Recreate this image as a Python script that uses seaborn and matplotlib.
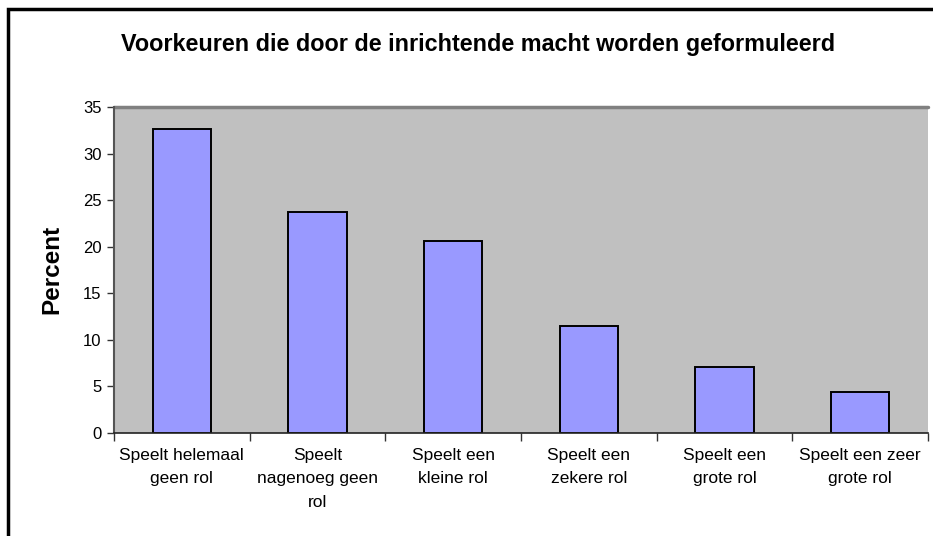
import pandas as pd
import seaborn as sns
import matplotlib.pyplot as plt
from matplotlib.patches import Rectangle
from matplotlib.ticker import FixedLocator

# Data
categorieen = [
    "Speelt helemaal\ngeen rol",
    "Speelt\nnagenoeg geen\nrol",
    "Speelt een\nkleine rol",
    "Speelt een\nzekere rol",
    "Speelt een\ngrote rol",
    "Speelt een zeer\ngrote rol",
]
percentages = [32.7, 23.7, 20.6, 11.5, 7.1, 4.4]

dados = pd.DataFrame({"Categorie": categorieen, "Percent": percentages})

sns.set_style("white")
plt.rcParams["font.family"] = ["Liberation Sans", "DejaVu Sans"]
plt.rcParams["text.color"] = "black"
plt.rcParams["axes.labelcolor"] = "black"
plt.rcParams["xtick.color"] = "black"
plt.rcParams["ytick.color"] = "black"

fig = plt.figure(figsize=(9.33, 5.36), dpi=100)
ax = fig.add_axes([0.1222, 0.193, 0.8724, 0.607])

sns.barplot(data=dados, x="Categorie", y="Percent", color="#9999FF",
            saturation=1, width=0.43, edgecolor="black", linewidth=1.4, ax=ax)

ax.set_facecolor("#C0C0C0")
ax.set_ylim(0, 35)
ax.set_xlim(-0.5, len(categorieen) - 0.5)
ax.set_yticks(range(0, 36, 5))
ax.tick_params(axis="y", labelsize=12, length=5, width=1, color="#333333",
               labelcolor="black", direction="out", left=True, pad=4)
ax.tick_params(axis="x", which="major", labelsize=12.5, length=0, pad=11,
               labelcolor="black")
for lbl in ax.get_xticklabels():
    lbl.set_linespacing(1.72)
ax.xaxis.set_minor_locator(FixedLocator([i - 0.5 for i in range(len(categorieen) + 1)]))
ax.tick_params(axis="x", which="minor", length=6, width=1, color="#333333",
               direction="out", bottom=True)

for side in ["top", "right"]:
    ax.spines[side].set_visible(False)
ax.spines["left"].set_color("#555555")
ax.spines["left"].set_linewidth(1.5)
ax.spines["bottom"].set_color("#222222")
ax.spines["bottom"].set_linewidth(1.2)
ax.axhline(35, color="#808080", linewidth=2.5, clip_on=False)

ax.set_xlabel("")
ax.set_ylabel("Percent", fontsize=17.5, fontweight="bold")
ax.yaxis.set_label_coords(-0.062, 0.5)

fig.text(0.512, 0.917, "Voorkeuren die door de inrichtende macht worden geformuleerd",
         ha="center", va="center", fontsize=16.8, fontweight="bold")

# rand rond de grafiek
fig.add_artist(Rectangle((8 / 933, -0.05), 1.0, (536 - 9) / 536 + 0.05,
                         transform=fig.transFigure, fill=False,
                         edgecolor="black", linewidth=2.5))

plt.savefig("out.png", dpi=100)
